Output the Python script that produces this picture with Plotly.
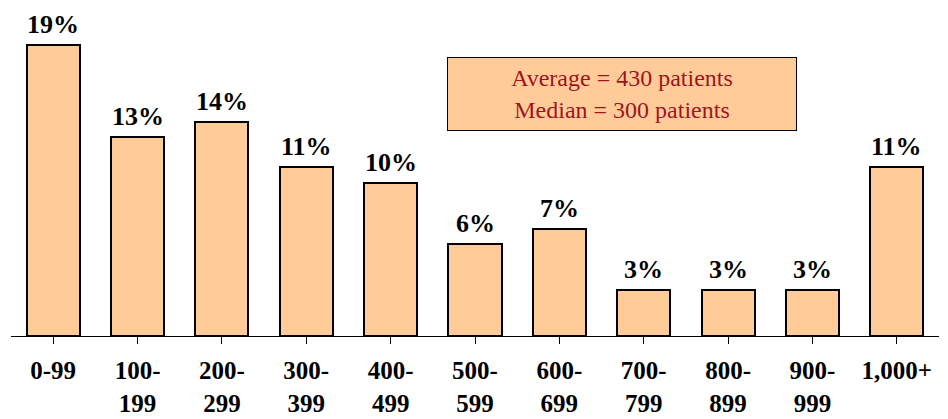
import plotly.graph_objects as go

categories = ["0-99", "100-<br>199", "200-<br>299", "300-<br>399", "400-<br>499", "500-<br>599",
              "600-<br>699", "700-<br>799", "800-<br>899", "900-<br>999", "1,000+"]
values = [19, 13, 14, 11, 10, 6, 7, 3, 3, 3, 11]
labels = [f"{v}%" for v in values]
note_lines = ["Average = 430 patients", "Median = 300 patients"]

FONT = "Liberation Serif"
FILL = "#FFCC99"

fig = go.Figure()
fig.add_trace(go.Bar(
    x=list(range(len(categories))), y=values,
    width=0.63,
    marker=dict(color=FILL, line=dict(color="black", width=2)),
    hoverinfo="skip",
))

for i, (v, lab) in enumerate(zip(values, labels)):
    fig.add_annotation(x=i, y=v, text=f"<b>{lab}</b>", showarrow=False,
                       yanchor="bottom", yshift=4,
                       font=dict(family=FONT, size=26, color="black"))

fig.add_annotation(
    x=0.658, y=0.720, xref="paper", yref="paper",
    xanchor="center", yanchor="middle",
    text="<br>".join(note_lines), showarrow=False,
    font=dict(family=FONT, size=24, color="#A0141C"),
    bgcolor=FILL, bordercolor="black", borderwidth=1,
    width=346, height=70, align="center",
)

fig.update_xaxes(
    tickmode="array", tickvals=list(range(len(categories))),
    ticktext=[f"<b>{c}</b>" for c in categories],
    range=[-0.5, len(categories) - 0.5],
    showline=True, linecolor="black", linewidth=1,
    ticks="outside", tickson="boundaries", ticklen=7, tickcolor="black",
    tickfont=dict(family=FONT, size=25, color="black"),
    showgrid=False, zeroline=False, ticklabelstandoff=5,
    automargin=False,
)
fig.update_yaxes(range=[0, 21.93], visible=False, showgrid=False, automargin=False)

fig.update_layout(
    width=948, height=419,
    margin=dict(l=11, r=9, t=0, b=83, autoexpand=False),
    plot_bgcolor="white", paper_bgcolor="white",
    showlegend=False, bargap=0,
)
fig.write_html("out.html", config={"displayModeBar": False},
               post_script="document.body.style.margin='0';")
